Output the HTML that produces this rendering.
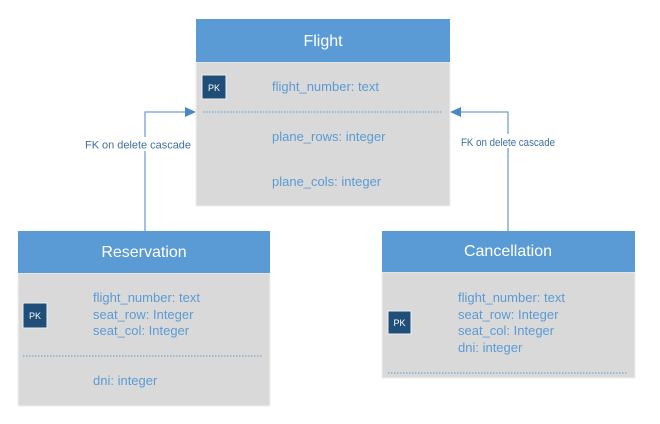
<!DOCTYPE html>
<html><head><meta charset="utf-8"><style>
html,body{margin:0;padding:0;background:#fff;}
svg{display:block;font-family:"Liberation Sans",sans-serif;}
</style></head><body>
<svg width="660" height="424" viewBox="0 0 660 424" xmlns="http://www.w3.org/2000/svg">
<g stroke="#6fa1d4" stroke-width="1.3" fill="none">
<polyline points="145,231 145,112 188,112"/>
<polyline points="508,231 508,112 458,112"/>
</g>
<polygon points="196,112 185,107 185,117" fill="#4a86c5"/>
<polygon points="450,112 461,107 461,117" fill="#4a86c5"/>
<rect x="82" y="137" width="112" height="14" fill="#fff"/>
<rect x="455" y="134" width="108" height="14" fill="#fff"/>
<text x="138" y="148.5" font-size="10.8" fill="#3d6fa3" text-anchor="middle" textLength="106" lengthAdjust="spacingAndGlyphs">FK on delete cascade</text>
<text x="508" y="146" font-size="10.8" fill="#3d6fa3" text-anchor="middle" textLength="94" lengthAdjust="spacingAndGlyphs">FK on delete cascade</text>

<!-- Flight -->
<rect x="196" y="62" width="254" height="144" fill="#d9d9d9" stroke="#eee"/>
<rect x="196" y="19" width="254" height="43" fill="#5b9bd5"/>
<text x="323" y="46" font-size="16" fill="#fff" text-anchor="middle">Flight</text>
<rect x="202" y="75" width="24" height="24" fill="#1f4e79" stroke="#eee"/>
<text x="214" y="91" font-size="9" fill="#fff" text-anchor="middle">PK</text>
<g font-size="13" fill="#5b9bd5">
<text x="272" y="91">flight_number: text</text>
<text x="272" y="141">plane_rows: integer</text>
<text x="272" y="186">plane_cols: integer</text>
</g>
<line x1="203" y1="112" x2="443" y2="112" stroke="#5b9bd5" stroke-dasharray="1.5,1.5"/>

<!-- Reservation -->
<rect x="18" y="273" width="252" height="133" fill="#d9d9d9" stroke="#eee"/>
<rect x="18" y="231" width="252" height="42" fill="#5b9bd5"/>
<text x="144" y="257" font-size="16" fill="#fff" text-anchor="middle">Reservation</text>
<rect x="23" y="303" width="24" height="25" fill="#1f4e79" stroke="#eee"/>
<text x="35" y="319" font-size="9" fill="#fff" text-anchor="middle">PK</text>
<g font-size="13" fill="#5b9bd5">
<text x="93" y="302">flight_number: text</text>
<text x="93" y="319">seat_row: Integer</text>
<text x="93" y="335">seat_col: Integer</text>
<text x="93" y="385">dni: integer</text>
</g>
<line x1="23" y1="356" x2="263" y2="356" stroke="#5b9bd5" stroke-dasharray="1.5,1.5"/>

<!-- Cancellation -->
<rect x="382" y="272" width="253" height="106" fill="#d9d9d9" stroke="#eee"/>
<rect x="382" y="231" width="253" height="41" fill="#5b9bd5"/>
<text x="508" y="256" font-size="16" fill="#fff" text-anchor="middle">Cancellation</text>
<rect x="388" y="311" width="23" height="23" fill="#1f4e79" stroke="#eee"/>
<text x="399.5" y="326" font-size="9" fill="#fff" text-anchor="middle">PK</text>
<g font-size="13" fill="#5b9bd5">
<text x="458" y="302">flight_number: text</text>
<text x="458" y="319">seat_row: Integer</text>
<text x="458" y="335">seat_col: Integer</text>
<text x="458" y="352">dni: integer</text>
</g>
<line x1="388" y1="373" x2="628" y2="373" stroke="#5b9bd5" stroke-dasharray="1.5,1.5"/>
</svg>
</body></html>
